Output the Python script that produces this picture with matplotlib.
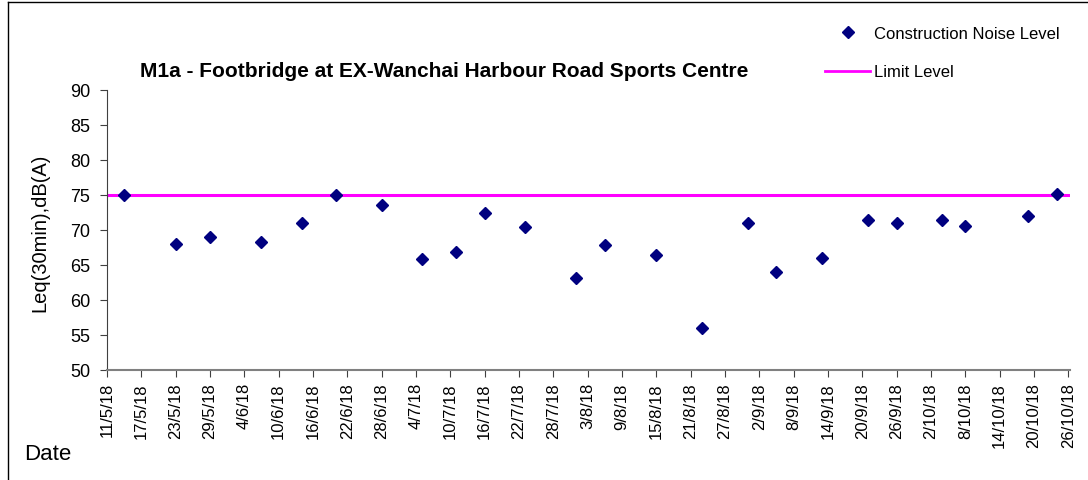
import datetime as dt
import matplotlib
matplotlib.use("Agg")
import matplotlib.pyplot as plt
import matplotlib.dates as mdates
from matplotlib.lines import Line2D
from matplotlib.ticker import FuncFormatter

plt.rcParams["font.family"] = ["Liberation Sans", "DejaVu Sans"]

dates = ["14/5/18", "23/5/18", "29/5/18", "7/6/18", "14/6/18", "20/6/18",
         "28/6/18", "5/7/18", "11/7/18", "16/7/18", "23/7/18", "1/8/18",
         "6/8/18", "15/8/18", "23/8/18", "31/8/18", "5/9/18", "13/9/18",
         "21/9/18", "26/9/18", "4/10/18", "8/10/18", "19/10/18", "24/10/18"]
noise = [75.0, 68.0, 69.0, 68.3, 70.9, 75.0,
         73.5, 65.8, 66.8, 72.4, 70.4, 63.1,
         67.8, 66.4, 55.9, 70.9, 63.9, 65.9,
         71.4, 71.0, 71.4, 70.5, 72.0, 75.1]
limit = 75
axis_start = "11/5/18"
axis_end = "26/10/18"
tick_step_days = 6


def parse(s):
    return dt.datetime.strptime(s, "%d/%m/%y")


x = [parse(d) for d in dates]
x0, x1 = parse(axis_start), parse(axis_end)

fig = plt.figure(figsize=(10.88, 4.81), dpi=100)
ax = fig.add_axes([107 / 1088, 1 - 370.7 / 481, (1070 - 107) / 1088, 280 / 481])

ax.axhline(limit, color="#FF00FF", lw=2.2, zorder=2)
ax.plot(x, noise, ls="none", marker="D", ms=6.5, color="#000080", zorder=3)

ax.set_xlim(x0, x1 + dt.timedelta(days=0.3))
ax.set_ylim(50, 90)
ax.set_yticks(range(50, 91, 5))

ticks = []
t = x0
while t <= x1:
    ticks.append(t)
    t += dt.timedelta(days=tick_step_days)
ax.set_xticks(ticks)
ax.xaxis.set_major_formatter(
    FuncFormatter(lambda v, p: (lambda d: f"{d.day}/{d.month}/{d.year % 100}")(mdates.num2date(v)))
)

for s in ["top", "right"]:
    ax.spines[s].set_visible(False)
ax.spines["left"].set_color("#404040")
ax.spines["bottom"].set_color("#808080")
ax.spines["bottom"].set_linewidth(1.5)
ax.tick_params(axis="y", direction="out", length=5, color="#404040", labelsize=13, pad=7)
ax.tick_params(axis="x", direction="out", length=5, color="#404040", labelsize=12,
               labelrotation=90, pad=4)

ax.set_title("M1a - Footbridge at EX-Wanchai Harbour Road Sports Centre",
             fontsize=15, fontweight="bold", x=(444 - 107) / (1070 - 107), y=1.02)

fig.text(40 / 1088, 1 - 233 / 481, "Leq(30min),dB(A)", rotation=90,
         ha="center", va="center", fontsize=14.5)
fig.text(24 / 1088, 1 - 455 / 481, "Date", ha="left", va="center", fontsize=16)

handles = [
    Line2D([], [], ls="none", marker="D", ms=6, color="#000080"),
    Line2D([], [], color="#FF00FF", lw=2),
]
fig.legend(handles, ["Construction Noise Level", "Limit Level"],
           loc="upper left", bbox_to_anchor=(825 / 1088, 1 - 27 / 481),
           frameon=False, fontsize=12, handlelength=2.7, handletextpad=0.25,
           labelspacing=1.4, borderpad=0, borderaxespad=0)

# chart area border (left and top edges visible)
fig.add_artist(Line2D([7.5 / 1088, 7.5 / 1088], [0, 1 - 3 / 481], color="black", lw=1))
fig.add_artist(Line2D([7.5 / 1088, 1], [1 - 3 / 481, 1 - 3 / 481], color="black", lw=1))

fig.savefig("out.png", dpi=100)
